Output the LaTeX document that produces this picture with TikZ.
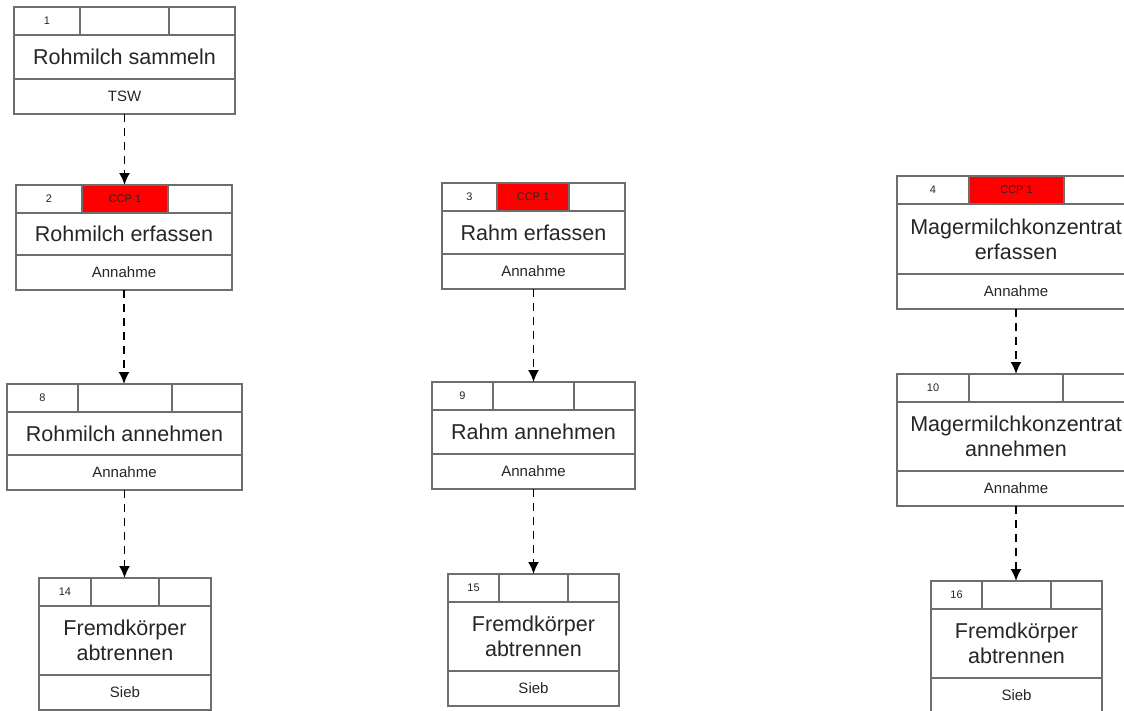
\documentclass[tikz,border=0pt]{standalone}
\usepackage{fontspec}
\setmainfont{Liberation Sans}
\usetikzlibrary{arrows.meta, positioning}
\definecolor{boxline}{HTML}{6E6E6E}
\definecolor{ccpred}{HTML}{FF0000}
\definecolor{txtgray}{HTML}{262626}

\begin{document}
\begin{tikzpicture}[x=1pt, y=-1pt,
    cell/.style={rectangle, draw=boxline, line width=1.2pt, fill=white,
                 inner sep=0pt, outer sep=0pt, text=txtgray},
    numcell/.style={cell, minimum height=28pt, font=\fontsize{11}{13}\selectfont},
    maincell/.style={cell, align=center, font=\fontsize{21.5}{25}\selectfont},
    subcell/.style={cell, minimum height=35pt, font=\fontsize{15}{18}\selectfont},
    flow/.style={-{Latex[length=12pt, width=11pt]}, line width=1.8pt,
                 dash pattern=on 8pt off 6pt, draw=black}
]
\useasboundingbox (0,0) rectangle (1124,710);

% id / left / top / width / number cell / middle cell / main height / fill / tag / text / sub
\foreach \id/\x/\y/\w/\wa/\wb/\hm/\col/\tag/\txt/\sub in {
  1/14/7/221/66/89/44/white/{}/{Rohmilch sammeln}/TSW,
  2/16/185/216/66/86/42/ccpred/{CCP 1}/{Rohmilch erfassen}/Annahme,
  8/7/384/235/71/94/43/white/{}/{Rohmilch annehmen}/Annahme,
  14/39/578/172/52/68/69/white/{}/{Fremdkörper\\abtrennen}/Sieb,
  3/442/183/183/55/72/43/ccpred/{CCP 1}/{Rahm erfassen}/Annahme,
  9/432/382/203/61/81/44/white/{}/{Rahm annehmen}/Annahme,
  15/448/574/171/51/69/69/white/{}/{Fremdkörper\\abtrennen}/Sieb,
  4/897/176/238/72/95/70/ccpred/{CCP 1}/{Magermilchkonzentrat\\erfassen}/Annahme,
  10/897/374/238/72/94/69/white/{}/{Magermilchkonzentrat\\annehmen}/Annahme,
  16/931/581/171/51/69/69/white/{}/{Fremdkörper\\abtrennen}/Sieb}{
  \pgfmathsetmacro\wc{\w-\wa-\wb}
  \node[numcell, minimum width=\wa pt, anchor=north west] (b\id-a) at (\x,\y) {\id};
  \node[numcell, minimum width=\wb pt, fill=\col, right=0pt of b\id-a] (b\id-b) {\tag};
  \node[numcell, minimum width=\wc pt, right=0pt of b\id-b] (b\id-c) {};
  \node[maincell, minimum width=\w pt, minimum height=\hm pt, anchor=north west]
       (b\id) at (b\id-a.south west) {\txt};
  \node[subcell, minimum width=\w pt, anchor=north west] (b\id-s) at (b\id.south west) {\sub};
}

\draw[flow] (b1-s.south) -- (b1-s.south |- b2-a.north);
\draw[flow] (b2-s.south) -- (b2-s.south |- b8-a.north);
\draw[flow] (b8-s.south) -- (b8-s.south |- b14-a.north);

\draw[flow] (b3-s.south) -- (b3-s.south |- b9-a.north);
\draw[flow] (b9-s.south) -- (b9-s.south |- b15-a.north);

\draw[flow] (b4-s.south) -- (b4-s.south |- b10-a.north);
\draw[flow] (b10-s.south) -- (b10-s.south |- b16-a.north);
\end{tikzpicture}
\end{document}
